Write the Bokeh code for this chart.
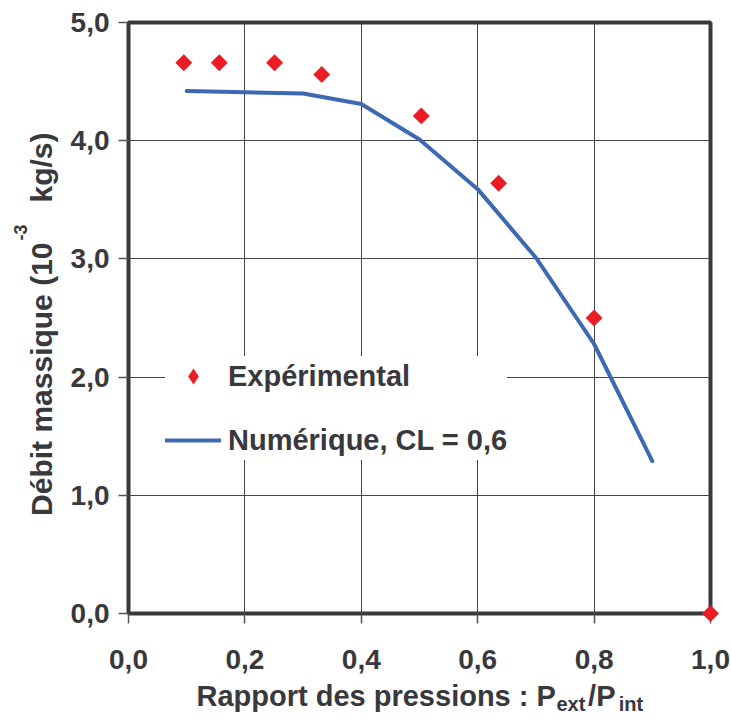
import math
from bokeh.plotting import figure
from bokeh.models import (Range1d, FixedTicker, Legend, LegendItem, Label,
                          ColumnDataSource)
from bokeh.embed import file_html
from bokeh.resources import INLINE

# ---- data ----
x_exp = [0.095, 0.156, 0.251, 0.332, 0.503, 0.636, 0.80, 1.0]
y_exp = [4.66, 4.66, 4.66, 4.56, 4.21, 3.64, 2.50, 0.0]

x_num = [0.1, 0.2, 0.3, 0.4, 0.5, 0.6, 0.7, 0.8, 0.9]
y_num = [4.42, 4.41, 4.40, 4.31, 4.01, 3.59, 3.01, 2.28, 1.29]

x_ticks = [0.0, 0.2, 0.4, 0.6, 0.8, 1.0]
x_tick_labels = ["0,0", "0,2", "0,4", "0,6", "0,8", "1,0"]
y_ticks = [0, 1, 2, 3, 4, 5]
y_tick_labels = ["0,0", "1,0", "2,0", "3,0", "4,0", "5,0"]

series_labels = ["Expérimental", "Numérique, CL = 0,6"]

# ---- style ----
TEXT = "#38383d"
FONT = "Liberation Sans"
RED = "#ec1c24"
BLUE = "#3d69b2"
FRAME_W, FRAME_H = 582, 591
LEFT, TOP = 128, 22
NB = "\u00a0"

p = figure(frame_width=FRAME_W, frame_height=FRAME_H,
           x_range=Range1d(0, 1), y_range=Range1d(0, 5),
           output_backend="svg", toolbar_location=None,
           min_border_left=LEFT, min_border_top=TOP,
           min_border_right=21, min_border_bottom=107)
p.background_fill_color = "white"
p.border_fill_color = "white"
p.outline_line_color = "#38383d"
p.outline_line_width = 4

# grid
p.xgrid.ticker = FixedTicker(ticks=x_ticks)
p.ygrid.ticker = FixedTicker(ticks=y_ticks)
for g in (p.xgrid, p.ygrid):
    g.grid_line_color = "#444444"
    g.grid_line_width = 1

# axes
p.xaxis.ticker = FixedTicker(ticks=x_ticks)
p.yaxis.ticker = FixedTicker(ticks=y_ticks)
p.xaxis.major_label_overrides = dict(zip(x_ticks, x_tick_labels))
p.yaxis.major_label_overrides = dict(zip(y_ticks, y_tick_labels))
for ax in (p.xaxis[0], p.yaxis[0]):
    ax.axis_line_color = None
    ax.major_tick_out = 10
    ax.major_tick_in = 0
    ax.major_tick_line_color = "#555555"
    ax.major_tick_line_width = 1.5
    ax.minor_tick_line_color = None
    ax.major_label_text_font = FONT
    ax.major_label_text_font_style = "bold"
    ax.major_label_text_font_size = "28px"
    ax.major_label_text_color = TEXT
p.xaxis.major_label_standoff = 26
p.yaxis.major_label_standoff = 9

# data
src_num = ColumnDataSource(dict(x=x_num, y=y_num))
src_exp = ColumnDataSource(dict(x=x_exp, y=y_exp))
r_line = p.line("x", "y", source=src_num, line_color=BLUE, line_width=4,
                line_cap="round")
# diamond key for the legend (hidden beneath the rotated squares below)
r_key = p.scatter("x", "y", source=src_exp, marker="diamond", size=9,
                  fill_color=RED, line_color=None)
r_pts = p.scatter("x", "y", source=src_exp, marker="square", size=12,
                  angle=math.pi / 4, fill_color=RED, line_color=None,
                  level="overlay")

legend = Legend(items=[LegendItem(label=series_labels[0], renderers=[r_key]),
                       LegendItem(label=series_labels[1], renderers=[r_line])],
                location=(37, 153), margin=0, padding=12,
                background_fill_color="white", background_fill_alpha=1.0,
                border_line_color=None,
                label_text_font=FONT, label_text_font_style="bold",
                label_text_font_size="29px", label_text_color=TEXT,
                glyph_width=56, glyph_height=40, label_height=40,
                spacing=24, label_standoff=7)
p.add_layout(legend)

# ---- axis titles (pieces for sub/superscripts, spread over side panels) ----
def px_x(px):
    return (px - LEFT) / FRAME_W

def px_y(py):
    return (TOP + FRAME_H - py) * 5.0 / FRAME_H

def lab(place, text, x, y, size, align="left", angle=0.0):
    p.add_layout(Label(x=x, y=y, text=text, text_font=FONT,
                       text_font_style="bold", text_font_size=size,
                       text_color=TEXT, text_align=align,
                       text_baseline="alphabetic", angle=angle), place)

# x title: Rapport des pressions : P_ext/P_int
lab("below", "Rapport des pressions : P" + NB * 4 + "/P",
    px_x(196), px_y(695), "29px")
lab("above", "ext" + NB * 6 + "int", px_x(556), px_y(703), "20px")

# y title: Débit massique (10^-3 kg/s)
A = math.pi / 2
lab("left", "Débit massique (10", px_x(41), px_y(242), "30px", "right", A)
lab("left", "kg/s)", px_x(41), px_y(132), "30px", "right", A)
lab("right", "-3", px_x(20), px_y(240), "18px", "left", A)

open("out.html", "w").write(file_html(p, INLINE))
